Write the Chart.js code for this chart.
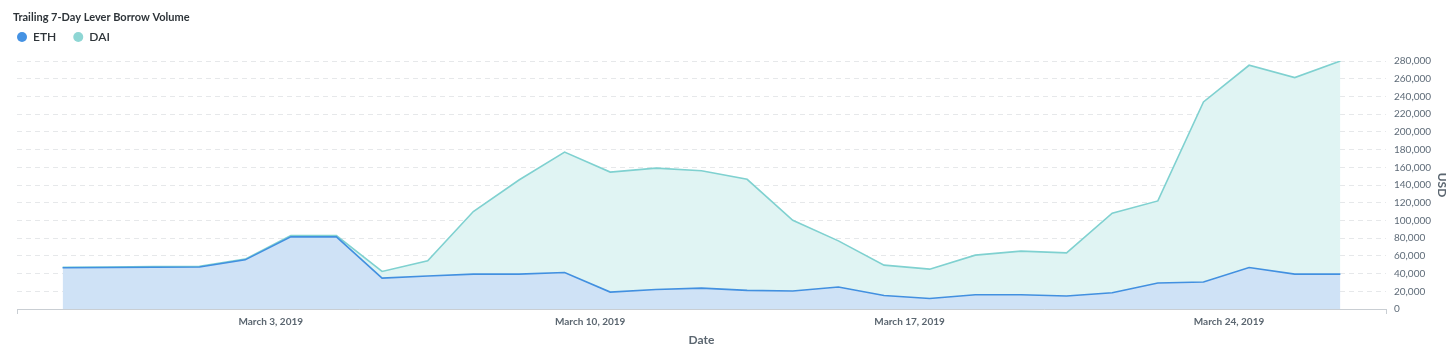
<!DOCTYPE html>
<html>
<head>
<meta charset="utf-8">
<script src="https://cdn.jsdelivr.net/npm/chart.js@4.4.1/dist/chart.umd.min.js"></script>
<style>
  html, body { margin: 0; padding: 0; background: #ffffff; }
  #wrap { position: relative; width: 1456px; height: 356px; }
</style>
</head>
<body>
<div id="wrap"><canvas id="chart" width="1456" height="356"></canvas></div>
<script>
// ---- data ----
const chartTitle = 'Trailing 7-Day Lever Borrow Volume';
const dates = [
  '2019-02-26','2019-02-27','2019-02-28','2019-03-01','2019-03-02','2019-03-03','2019-03-04',
  '2019-03-05','2019-03-06','2019-03-07','2019-03-08','2019-03-09','2019-03-10','2019-03-11',
  '2019-03-12','2019-03-13','2019-03-14','2019-03-15','2019-03-16','2019-03-17','2019-03-18',
  '2019-03-19','2019-03-20','2019-03-21','2019-03-22','2019-03-23','2019-03-24','2019-03-25',
  '2019-03-26'
];
const ethValues = [
  46500, 46800, 47200, 47500, 55500, 81400, 81400,
  34900, 37200, 39400, 39400, 41200, 19100, 22100,
  23600, 21000, 20300, 24800, 15300, 11900, 16100,
  16100, 14600, 18400, 29300, 30400, 46900, 39400,
  39400
];
const daiValues = [
  500, 700, 600, 700, 800, 1500, 1500,
  7500, 17200, 70600, 106200, 136000, 135500, 137000,
  132500, 125400, 79900, 52100, 34200, 33100, 44700,
  49200, 48800, 89700, 92700, 203400, 228300, 221900,
  240600
];
const tickDates = ['2019-03-03', '2019-03-10', '2019-03-17', '2019-03-24'];
const tickLabels = ['March 3, 2019', 'March 10, 2019', 'March 17, 2019', 'March 24, 2019'];
const yTicks = [0, 20000, 40000, 60000, 80000, 100000, 120000, 140000, 160000, 180000, 200000, 220000, 240000, 260000, 280000];
const seriesNames = ['ETH', 'DAI'];
const xTitle = 'Date';
const yTitle = 'USD';

// sample time-of-day offset (fraction of a day) of each daily reading
const SAMPLE_OFFSET_DAYS = 0.44;
const DAY = 86400000;
const epoch = Date.parse(dates[0] + 'T00:00:00Z');
const dayNum = d => (Date.parse(d + 'T00:00:00Z') - epoch) / DAY;
const xs = dates.map(d => dayNum(d) + SAMPLE_OFFSET_DAYS);
const tickPos = tickDates.map(dayNum);
const xMin = xs[0] - 1;
const xMax = xs[xs.length - 1] + 1;

const FONT = 'Lato, "Open Sans", sans-serif';
const colors = {
  eth: { line: '#4290e0', fill: '#cfe2f6', dot: '#4592e3' },
  dai: { line: '#7fd1d0', fill: '#e0f4f3', dot: '#8ed6d4' }
};

const headerPlugin = {
  id: 'header',
  afterDraw(chart) {
    const ctx = chart.ctx;
    ctx.save();
    ctx.textBaseline = 'middle';
    ctx.textAlign = 'left';
    ctx.font = 'bold 11px ' + FONT;
    ctx.fillStyle = '#2e3439';
    ctx.fillText(chartTitle, 13, 17);
    ctx.font = '600 12px ' + FONT;
    let x = 17;
    chart.data.datasets.forEach(ds => {
      ctx.beginPath();
      ctx.arc(x + 5, 37, 5, 0, Math.PI * 2);
      ctx.fillStyle = ds.legendColor;
      ctx.fill();
      ctx.fillStyle = '#2e3439';
      ctx.fillText(ds.label, x + 16, 37.5);
      x += 16 + ctx.measureText(ds.label).width + 17;
    });
    ctx.restore();
  }
};

new Chart(document.getElementById('chart'), {
  type: 'line',
  data: {
    datasets: [
      {
        label: seriesNames[0],
        data: xs.map((x, i) => ({ x, y: ethValues[i] })),
        borderColor: colors.eth.line,
        backgroundColor: colors.eth.fill,
        legendColor: colors.eth.dot,
        fill: 'origin',
        borderWidth: 1.6,
        pointRadius: 0,
        tension: 0
      },
      {
        label: seriesNames[1],
        data: xs.map((x, i) => ({ x, y: daiValues[i] })),
        borderColor: colors.dai.line,
        backgroundColor: colors.dai.fill,
        legendColor: colors.dai.dot,
        fill: '-1',
        borderWidth: 1.6,
        pointRadius: 0,
        tension: 0
      }
    ]
  },
  options: {
    responsive: false,
    animation: false,
    layout: { padding: { top: 61, left: 17, right: 0, bottom: 0 } },
    plugins: {
      legend: { display: false },
      title: { display: false },
      tooltip: { enabled: false }
    },
    scales: {
      x: {
        type: 'linear',
        min: xMin,
        max: xMax,
        afterBuildTicks(scale) {
          scale.ticks = [xMin, ...tickPos, xMax].map(v => ({ value: v }));
        },
        afterFit(scale) { scale.height = 47; },
        ticks: {
          autoSkip: false,
          maxRotation: 0,
          padding: 2,
          color: '#5b6670',
          font: { family: FONT, size: 10, weight: 'bold' },
          callback(v) {
            const k = tickPos.indexOf(v);
            return k >= 0 ? tickLabels[k] : '';
          }
        },
        grid: {
          drawOnChartArea: false,
          drawTicks: true,
          tickLength: 5,
          color(ctx) {
            const v = ctx.tick && ctx.tick.value;
            return (v === xMin || v === xMax) ? '#c9ced3' : 'rgba(0,0,0,0)';
          }
        },
        border: { display: true, color: '#c9ced3', width: 1 },
        title: {
          display: true,
          text: xTitle,
          color: '#5b6670',
          font: { family: FONT, size: 12, weight: 'bold' },
          padding: { top: 4, bottom: 9 }
        }
      },
      y: {
        position: 'right',
        stacked: true,
        min: 0,
        max: 280000,
        afterBuildTicks(scale) {
          scale.ticks = yTicks.map(v => ({ value: v }));
        },
        afterFit(scale) { scale.width = 70; },
        ticks: {
          padding: 8,
          color: '#5e6b78',
          font: { family: FONT, size: 10 },
          callback(v) { return v.toLocaleString('en-US'); }
        },
        grid: {
          color: '#e6e8ea',
          lineWidth: 1,
          drawTicks: false
        },
        border: { display: false, dash: [5, 4] },
        title: {
          display: true,
          text: yTitle,
          color: '#5b6670',
          font: { family: FONT, size: 12, weight: 'bold' },
          padding: { top: 7, bottom: 0 }
        }
      }
    }
  },
  plugins: [headerPlugin]
});
</script>
</body>
</html>
